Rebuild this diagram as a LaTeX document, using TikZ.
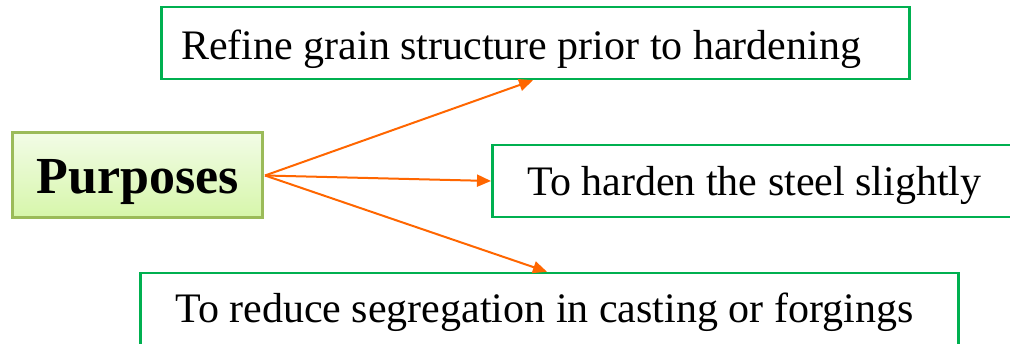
\documentclass[tikz,border=0pt]{standalone}
\usepackage{fontspec}
\setmainfont{Liberation Serif}
\usetikzlibrary{arrows.meta,calc}
\definecolor{boxgreen}{RGB}{0,176,80}
\definecolor{olivegreen}{RGB}{155,187,89}
\definecolor{arrorange}{RGB}{255,102,0}
\definecolor{gradtop}{RGB}{242,252,230}
\definecolor{gradbot}{RGB}{214,246,170}
\newcommand{\lbox}[2]{\makebox[#1][l]{#2}}
\tikzset{
  purposebox/.style={draw=olivegreen, line width=3pt, top color=gradtop, bottom color=gradbot,
    inner sep=0pt, text height=61pt, text depth=24pt,
    font=\fontsize{52}{60}\selectfont\bfseries, anchor=base west},
  itembox/.style={draw=boxgreen, line width=2.5pt, inner ysep=0pt,
    font=\fontsize{42}{48}\selectfont, anchor=base west},
  conn/.style={draw=arrorange, line width=2pt, -{Triangle[length=14pt,width=12pt]}}
}
\begin{document}
\begin{tikzpicture}[x=1pt,y=-1pt]
\useasboundingbox (0,0) rectangle (1010,344);
\node[purposebox] (p) at (11,194) {\makebox[250pt][c]{Purposes}};
\node[itembox, inner xsep=20pt, text height=53pt, text depth=19pt] (top) at (160,60) {\lbox{708pt}{Refine grain structure prior to hardening}};
\node[itembox, inner xsep=35pt, text height=51pt, text depth=21pt] (mid) at (491,196) {\lbox{450pt}{To harden the steel slightly}};
\node[itembox, inner xsep=35pt, text height=50pt, text depth=30pt] (bot) at (139,323) {\lbox{748pt}{To reduce segregation in casting or forgings}};
\draw[conn] ([xshift=1pt]p.east) -- ([xshift=373pt]top.south west);
\draw[conn] ([xshift=1pt]p.east) -- (mid.west);
\draw[conn] ([xshift=1pt]p.east) -- ([xshift=408pt]bot.north west);
\end{tikzpicture}
\end{document}
